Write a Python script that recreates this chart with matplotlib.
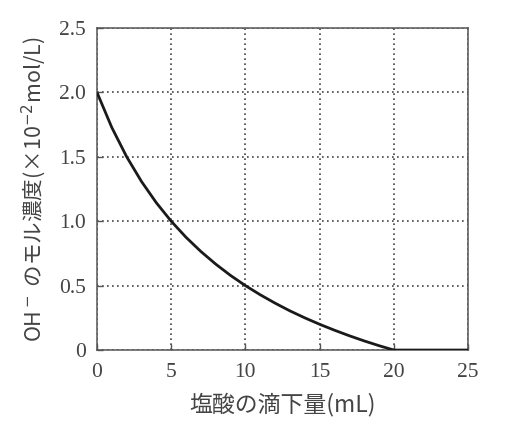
import matplotlib
matplotlib.use("Agg")
import matplotlib.pyplot as plt

# data
hcl_ml = [0, 1, 2, 3, 4, 5, 6, 7, 8, 9, 10, 11, 12, 13, 14, 15, 16, 17, 18, 19, 20, 25]
oh_conc = [2.0, 1.727, 1.5, 1.308, 1.143, 1.0, 0.875, 0.765, 0.667, 0.579, 0.5,
           0.429, 0.364, 0.304, 0.25, 0.2, 0.154, 0.111, 0.071, 0.034, 0.0, 0.0]
x_ticks = [0, 5, 10, 15, 20, 25]
x_tick_labels = ["0", "5", "10", "15", "20", "25"]
y_ticks = [0, 0.5, 1.0, 1.5, 2.0, 2.5]
y_tick_labels = ["0", "0.5", "1.0", "1.5", "2.0", "2.5"]
x_label = "塩酸の滴下量(mL)"
y_label = "OH$^-$ のモル濃度(×10$^{-2}$mol/L)"

fig = plt.figure(figsize=(5.3, 4.37), dpi=100)
ax = fig.add_axes([0.183, 0.199, 0.700, 0.737])

ax.plot(hcl_ml, oh_conc, color="#1a1a1a", lw=2.0, solid_capstyle="butt", zorder=3)

ax.set_xlim(0, 25)
ax.set_ylim(0, 2.5)
ax.set_xticks(x_ticks)
ax.set_xticklabels(x_tick_labels)
ax.set_yticks(y_ticks)
ax.set_yticklabels(y_tick_labels)

serif = ["Liberation Serif", "DejaVu Serif"]
for lab in ax.get_xticklabels() + ax.get_yticklabels():
    lab.set_family(serif)
    lab.set_fontsize(15.5)
    lab.set_color("#444444")

ax.tick_params(direction="in", length=4, width=1, color="#555555")
ax.tick_params(axis="x", pad=9)
ax.tick_params(axis="y", pad=8)
ax.grid(True, linestyle=(0, (1, 2)), color="#444444", lw=1.2)
for s in ax.spines.values():
    s.set_color("#555555")
    s.set_linewidth(1.1)

ax.set_xlabel(x_label, family=["Noto Sans CJK JP", "DejaVu Sans"], fontsize=16.5,
              color="#444444", labelpad=8)
ax.set_ylabel(y_label, family=["Noto Sans CJK JP", "DejaVu Sans"], fontsize=15.5,
              color="#444444", labelpad=8)

fig.savefig("out.png", dpi=100, facecolor="white")
